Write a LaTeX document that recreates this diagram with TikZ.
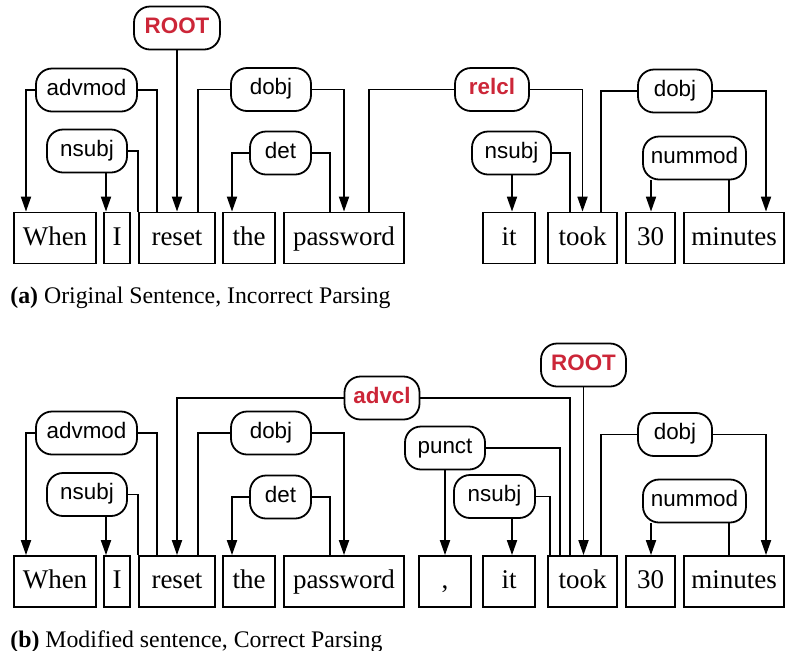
\documentclass[tikz,border=0pt]{standalone}
\usepackage{fontspec}
\setmainfont{Liberation Serif}
\setsansfont{Liberation Sans}
\usetikzlibrary{arrows.meta}
\definecolor{rootred}{RGB}{204,38,56}

\tikzset{
    word/.style={draw, line width=0.9pt, minimum height=25.5pt, inner sep=0pt,
        text height=9.5pt, text depth=2.5pt, font=\fontsize{13.5}{16}\selectfont},
    rel/.style={draw, line width=0.9pt, rounded corners=8pt, minimum height=21.5pt, inner sep=0pt,
        text height=8pt, text depth=3pt, font=\sffamily\fontsize{11.2}{13}\selectfont},
    mainrel/.style={rel, text=rootred, font=\sffamily\bfseries\fontsize{11.2}{13}\selectfont},
    dep/.style={line width=0.9pt, -{Triangle[length=7.5pt,width=5pt]}},
    link/.style={line width=0.9pt},
    caption/.style={anchor=base west, inner sep=0pt, font=\fontsize{11.9}{14}\selectfont}
}

\begin{document}
\begin{tikzpicture}[x=0.5pt,y=-0.5pt]
                \useasboundingbox (0,0) rectangle (785,650);

                \node[word, minimum width=41pt]   (whenA)     at (55,238)    {When};
                \node[word, minimum width=13pt]   (IA)        at (117,238)   {I};
                \node[word, minimum width=38pt]   (resetA)    at (177,238)   {reset};
                \node[word, minimum width=26pt]   (theA)      at (249,238)   {the};
                \node[word, minimum width=60pt]   (passwordA) at (344,238)   {password};
                \node[word, minimum width=26pt]   (itA)       at (509,238)   {it};
                \node[word, minimum width=34.5pt] (tookA)     at (582.5,238) {took};
                \node[word, minimum width=24.5pt] (thirtyA)   at (650.5,238) {30};
                \node[word, minimum width=50pt]   (minutesA)  at (734,238)   {minutes};

                \node[mainrel, minimum width=43pt] (rootA)     at (177,28)    {ROOT};
                \node[rel, minimum width=50.5pt]   (advmodA)   at (86.5,90)   {advmod};
                \node[rel, minimum width=40pt]     (nsubjA)    at (87,151)    {nsubj};
                \node[rel, minimum width=40pt]     (dobjA)     at (271,89.5)  {dobj};
                \node[rel, minimum width=30.5pt]   (detA)      at (280.5,153) {det};
                \node[mainrel, minimum width=37pt] (relclA)    at (492,89.5)  {relcl};
                \node[rel, minimum width=39.5pt]   (nsubjitA)  at (511.5,153) {nsubj};
                \node[rel, minimum width=37pt]     (dobjtookA) at (675,91)    {dobj};
                \node[rel, minimum width=51.5pt]   (nummodA)   at (694.5,158) {nummod};

                \draw[dep]  (rootA) -- (resetA);
                \draw[dep]  (advmodA.west) -| (whenA.north -| 26,0);
                \draw[link] (advmodA.east) -| (resetA.north -| 157,0);
                \draw[dep]  (nsubjA.south -| 106,0) -- (IA.north -| 106,0);
                \draw[link] (nsubjA.east) -| (resetA.north west);
                \draw[link] (dobjA.west) -| (resetA.north -| 198,0);
                \draw[dep]  (dobjA.east) -| (passwordA.north);
                \draw[dep]  (detA.west) -| (theA.north -| 232,0);
                \draw[link] (detA.east) -| (passwordA.north -| 330,0);
                \draw[link] (passwordA.north -| 369,0) |- (relclA.west);
                \draw[dep]  (relclA.east) -| (tookA.north);
                \draw[dep]  (nsubjitA.south -| 512,0) -- (itA.north -| 512,0);
                \draw[link] (nsubjitA.east) -| (tookA.north -| 570,0);
                \draw[link] (dobjtookA.west) -| (tookA.north -| 601,0);
                \draw[dep]  (dobjtookA.east) -| (minutesA.north -| 766,0);
                \draw[dep]  (nummodA.south -| 651,0) -- (thirtyA.north -| 651,0);
                \draw[link] (nummodA.south -| 729,0) -- (minutesA.north -| 729,0);

                \node[caption] (capA) at (10,303) {\textbf{(a)} Original Sentence, Incorrect Parsing};

                \node[word, minimum width=41pt]   (whenB)     at (55,581.5)    {When};
                \node[word, minimum width=13pt]   (IB)        at (117,581.5)   {I};
                \node[word, minimum width=38pt]   (resetB)    at (177,581.5)   {reset};
                \node[word, minimum width=26pt]   (theB)      at (249,581.5)   {the};
                \node[word, minimum width=60pt]   (passwordB) at (344,581.5)   {password};
                \node[word, minimum width=26pt]   (commaB)    at (445,581.5)   {,};
                \node[word, minimum width=26pt]   (itB)       at (509,581.5)   {it};
                \node[word, minimum width=34.5pt] (tookB)     at (582.5,581.5) {took};
                \node[word, minimum width=24.5pt] (thirtyB)   at (650.5,581.5) {30};
                \node[word, minimum width=50pt]   (minutesB)  at (734,581.5)   {minutes};

                \node[mainrel, minimum width=37.5pt] (advclB)    at (382,398)     {advcl};
                \node[mainrel, minimum width=42.5pt] (rootB)     at (583.5,365)   {ROOT};
                \node[rel, minimum width=50.5pt]     (advmodB)   at (86.5,433)    {advmod};
                \node[rel, minimum width=40pt]       (nsubjB)    at (87,494.5)    {nsubj};
                \node[rel, minimum width=40pt]       (dobjB)     at (271,433)     {dobj};
                \node[rel, minimum width=30.5pt]     (detB)      at (280.5,497)   {det};
                \node[rel, minimum width=40pt]       (punctB)    at (445,448)     {punct};
                \node[rel, minimum width=40.5pt]     (nsubjitB)  at (494.5,496.5) {nsubj};
                \node[rel, minimum width=37pt]       (dobjtookB) at (675,434.5)   {dobj};
                \node[rel, minimum width=51.5pt]     (nummodB)   at (694.5,501)   {nummod};

                \draw[dep]  (advclB.west) -| (resetB.north);
                \draw[link] (advclB.east) -| (tookB.north -| 570,0);
                \draw[dep]  (rootB.south) -- (rootB.south |- tookB.north);
                \draw[dep]  (advmodB.west) -| (whenB.north -| 26,0);
                \draw[link] (advmodB.east) -| (resetB.north -| 157,0);
                \draw[dep]  (nsubjB.south -| 106,0) -- (IB.north -| 106,0);
                \draw[link] (nsubjB.east) -| (resetB.north west);
                \draw[link] (dobjB.west) -| (resetB.north -| 198,0);
                \draw[dep]  (dobjB.east) -| (passwordB.north);
                \draw[dep]  (detB.west) -| (theB.north -| 232,0);
                \draw[link] (detB.east) -| (passwordB.north -| 330,0);
                \draw[dep]  (punctB) -- (commaB);
                \draw[link] (punctB.east) -| (tookB.north -| 560,0);
                \draw[dep]  (nsubjitB.south -| 512,0) -- (itB.north -| 512,0);
                \draw[link] (nsubjitB.east) -| (tookB.north -| 550,0);
                \draw[link] (dobjtookB.west) -| (tookB.north -| 601,0);
                \draw[dep]  (dobjtookB.east) -| (minutesB.north -| 766,0);
                \draw[dep]  (nummodB.south -| 651,0) -- (thirtyB.north -| 651,0);
                \draw[link] (nummodB.south -| 729,0) -- (minutesB.north -| 729,0);

                \node[caption] (capB) at (10,647) {\textbf{(b)} Modified sentence, Correct Parsing};
            \end{tikzpicture}
\end{document}
